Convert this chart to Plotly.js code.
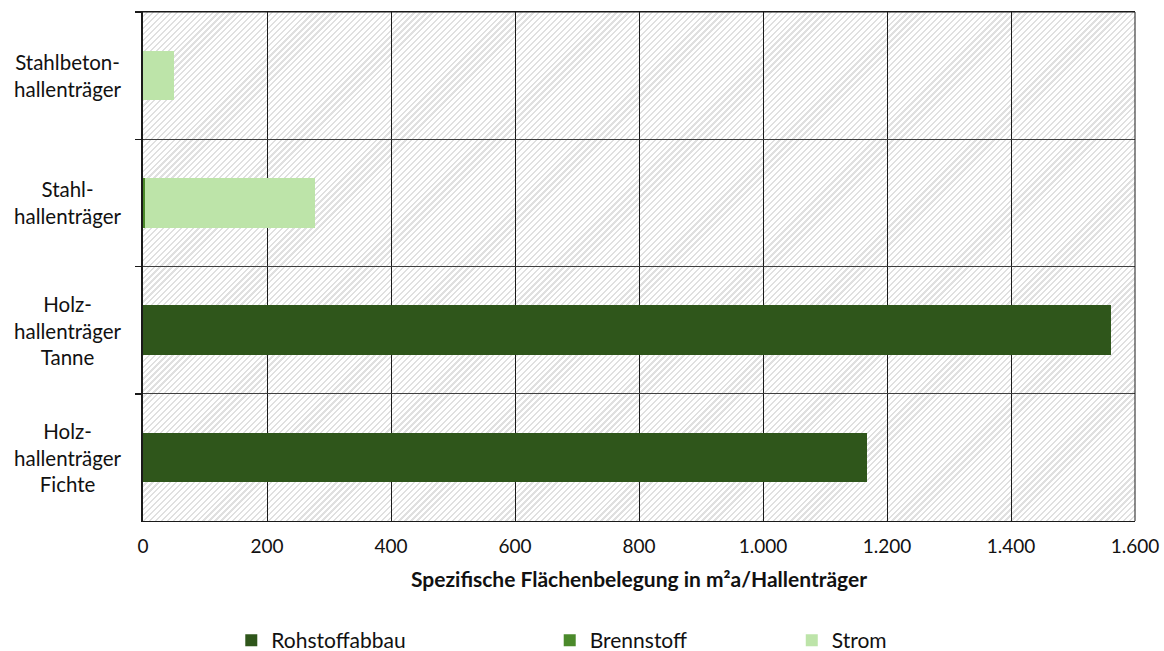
<!DOCTYPE html>
<html>
<head>
<meta charset="utf-8">
<script src="https://cdn.plot.ly/plotly-3.0.1.min.js"></script>
<style>
  html, body { margin: 0; padding: 0; background: #ffffff; }
  #wrap { position: relative; width: 1164px; height: 651px; }
  #hatch {
    position: absolute; left: 143px; top: 12px; width: 992px; height: 509px;
    background: repeating-linear-gradient(135deg, #ffffff 0px, #ffffff 2.6px, #e0e0e0 2.6px, #e0e0e0 4.2px);
  }
  #chart { position: absolute; left: 0; top: 0; width: 1164px; height: 651px; }
</style>
</head>
<body>
<div id="wrap">
  <div id="hatch"></div>
  <div id="chart"></div>
</div>
<script>
// Categories, top to bottom
const categories = ["Stahlbeton-<br>hallenträger", "Stahl-<br>hallenträger", "Holz-<br>hallenträger<br>Tanne", "Holz-<br>hallenträger<br>Fichte"];
const rohstoffabbau = [0, 0, 1561, 1168];
const brennstoff = [0, 4, 0, 0];
const strom = [50, 273, 0, 0];
const seriesNames = ["Rohstoffabbau", "Brennstoff", "Strom"];
const seriesColors = ["#2f561b", "#4b8a2b", "#bde4a9"];
const xTicks = [0, 200, 400, 600, 800, 1000, 1200, 1400, 1600];
const xTitle = "Spezifische Flächenbelegung in m²a/Hallenträger";

const font = "Lato, 'Open Sans', sans-serif";
const textColor = "#111111";
const seriesValues = [rohstoffabbau, brennstoff, strom];
const legendIds = ["legend", "legend2", "legend3"];

const traces = seriesValues.map((vals, i) => ({
  type: "bar",
  orientation: "h",
  name: seriesNames[i],
  y: categories,
  x: vals,
  marker: { color: seriesColors[i], line: { width: 0 } },
  legend: legendIds[i],
  hoverinfo: "x+name"
}));

const legendX = [0.089, 0.410, 0.654];
const legendCommon = {
  orientation: "h",
  yanchor: "middle",
  xanchor: "left",
  yref: "container",
  y: 0.016,
  font: { family: font, size: 21, color: textColor },
  bgcolor: "rgba(0,0,0,0)",
  itemwidth: 30
};

const layout = {
  width: 1164,
  height: 651,
  margin: { l: 143, r: 29, t: 12, b: 130, autoexpand: false },
  paper_bgcolor: "rgba(0,0,0,0)",
  plot_bgcolor: "rgba(0,0,0,0)",
  barmode: "stack",
  bargap: 0.61,
  separators: ",.",
  font: { family: font, color: textColor },
  xaxis: {
    range: [0, 1600],
    tickvals: xTicks,
    tickformat: ",d",
    showgrid: true,
    gridcolor: "#1a1a1a",
    gridwidth: 1,
    zeroline: false,
    showline: true,
    linecolor: "#1a1a1a",
    linewidth: 1,
    mirror: true,
    ticks: "",
    ticklabelstandoff: 8,
    automargin: false,
    tickfont: { family: font, size: 19, color: textColor },
    title: { text: "<b>" + xTitle + "</b>", font: { family: font, size: 21, color: textColor }, standoff: 16 }
  },
  yaxis: {
    type: "category",
    categoryorder: "array",
    categoryarray: categories,
    autorange: "reversed",
    tickson: "boundaries",
    ticks: "outside",
    ticklen: 6,
    tickcolor: "#1a1a1a",
    tickwidth: 1.5,
    showgrid: true,
    gridcolor: "#404040",
    gridwidth: 1,
    showline: true,
    linecolor: "#1a1a1a",
    linewidth: 2,
    mirror: false,
    automargin: false,
    showticklabels: false
  },
  annotations: categories.map(c => ({
    xref: "paper", yref: "y",
    x: -0.0756, y: c,
    text: c,
    showarrow: false,
    xanchor: "center", yanchor: "middle",
    align: "center",
    font: { family: font, size: 20.5, color: textColor }
  })),
  shapes: [
    { type: "line", xref: "paper", yref: "paper", x0: 0, x1: 1, y0: 1, y1: 1, line: { color: "#1a1a1a", width: 1 } },
    { type: "line", xref: "paper", yref: "paper", x0: 1, x1: 1, y0: 0, y1: 1, line: { color: "#1a1a1a", width: 1 } }
  ],
  showlegend: true
};
legendIds.forEach((id, i) => {
  layout[id] = Object.assign({}, legendCommon, { x: legendX[i] });
});

Plotly.newPlot("chart", traces, layout, { displayModeBar: false, staticPlot: true });
</script>
</body>
</html>
